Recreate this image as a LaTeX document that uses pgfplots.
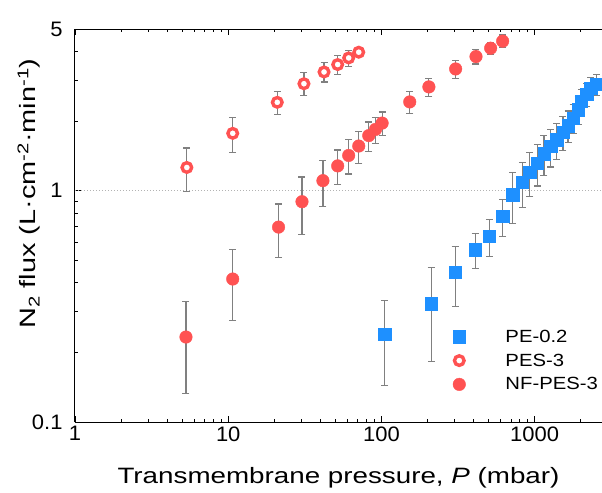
\documentclass[border=0pt]{standalone}
\usepackage{fontspec}
\setmainfont{Liberation Sans}
\newfontfamily\xlabfont{Liberation Sans}[FakeStretch=1.25]
\newfontfamily\ylabfont{Liberation Sans}[FakeStretch=1.3]
\newfontfamily\legfont{Liberation Sans}[FakeStretch=1.15]
\newfontfamily\tickfont{Liberation Sans}[FakeStretch=1.05]
\usepackage{pgfplots}
\usepackage{pgfplotstable}
\pgfplotsset{compat=1.18}
\definecolor{peblue}{RGB}{30,144,255}
\definecolor{pesred}{RGB}{255,82,82}
\definecolor{errgray}{RGB}{128,128,128}

\pgfplotstableread{
x y e
105 0.239 0.095
211 0.325 0.142
303 0.445 0.128
409 0.556 0.097
507 0.636 0.115
618 0.774 0.14
718 0.961 0.24
830 1.086 0.24
930 1.205 0.26
1040 1.318 0.27
1150 1.446 0.28
1270 1.556 0.29
1390 1.66 0.30
1530 1.79 0.30
1650 1.91 0.30
1780 2.06 0.30
1920 2.24 0.30
2020 2.44 0.30
2180 2.61 0.30
2320 2.78 0.30
2540 2.88 0.30
}\tablePE

\pgfplotstableread{
x y e
5.37 1.26 0.27
10.7 1.77 0.31
20.9 2.41 0.27
31.2 2.90 0.33
42.2 3.26 0.31
51.8 3.51 0.32
61.1 3.75 0.30
71.1 3.97 0.17
}\tablePES

\pgfplotstableread{
x y e
5.3 0.233 0.10
10.7 0.415 0.14
21.3 0.696 0.18
30.3 0.896 0.25
41.5 1.105 0.25
51.8 1.28 0.22
61.1 1.42 0.24
71.1 1.56 0.25
82.6 1.73 0.25
91.4 1.84 0.24
101 1.96 0.23
153 2.42 0.26
204 2.81 0.25
305 3.36 0.30
414 3.80 0.27
516 4.13 0.25
618 4.43 0.28
}\tableNF

\pgfplotsset{
  errstyle/.style={forget plot, draw=none, mark=none,
    error bars/.cd, y dir=both, y explicit,
    error bar style={draw=errgray, line width=1.15bp},
    error mark options={rotate=90, draw=errgray, mark size=3.5bp, line width=1.15bp}},
}

\begin{document}
\begin{tikzpicture}
\begin{axis}[
  name=ax,
  xmode=log, ymode=log,
  scale only axis,
  width=527bp, height=393bp,
  xmin=1, xmax=2750, ymin=0.1, ymax=5,
  axis x line*=box, axis y line*=left,
  xtick={1,10,100,1000}, xticklabels={1,10,100,1000},
  minor xtick={2,3,4,5,6,7,8,9,20,30,40,50,60,70,80,90,200,300,400,500,600,700,800,900,2000},
  ytick={0.1,1,5}, yticklabels={0.1,1,5},
  minor ytick={0.2,0.3,0.4,0.5,0.6,0.7,0.8,0.9,2,3,4},
  tick align=inside,
  major tick length=6bp, minor tick length=3.5bp,
  every tick/.style={black, line width=0.8bp},
  axis line style={line width=1bp},
  tick label style={font=\tickfont\fontsize{21}{23}\selectfont},
  /pgf/number format/assume math mode=true,
  yticklabel style={xshift=-9bp},
  xticklabel style={yshift=-1bp},
  xlabel={Transmembrane pressure, \textit{P} (mbar)},
  ylabel={N\textsubscript{2} flux (L·cm\textsuperscript{-2}·min\textsuperscript{-1})},
  every axis x label/.style={at={(axis description cs:0.5,0)}, anchor=base, yshift=-61bp, font=\xlabfont\fontsize{22.3}{25}\selectfont},
  every axis y label/.style={at={(axis description cs:-0.0873,0.581)}, anchor=center, rotate=90, font=\ylabfont\fontsize{22.3}{25}\selectfont},
  legend style={draw=none, fill=none, at={(0.70,0.245)}, anchor=north west,
    font=\legfont\fontsize{17.7}{20}\selectfont, row sep=6bp},
  legend cell align=left,
  legend image code/.code={\path (0bp,0bp) (56bp,0bp); \draw[mark repeat=2,mark phase=2,#1] plot coordinates {(0bp,0bp) (12bp,0bp) (56bp,0bp)};},
]
\addplot[forget plot, errgray!60, line width=0.8bp, dash pattern=on 1bp off 2bp] coordinates {(1,1) (2750,1)};

\addplot[errstyle] table[x=x, y=y, y error=e]{\tablePE};
\addplot[errstyle] table[x=x, y=y, y error=e]{\tablePES};
\addplot[errstyle] table[x=x, y=y, y error=e]{\tableNF};

\addplot[only marks, mark=square*, mark size=6.2bp, color=peblue]
  table[x=x, y=y]{\tablePE};
\addlegendentry{PE-0.2}

\addplot[only marks, mark=*, mark size=4.8bp, color=pesred,
  mark options={draw=pesred, fill=white, line width=3.4bp}]
  table[x=x, y=y]{\tablePES};
\addlegendentry{PES-3}

\addplot[only marks, mark=*, mark size=6.3bp, color=pesred,
  mark options={draw=none, fill=pesred}]
  table[x=x, y=y]{\tableNF};
\addlegendentry{NF-PES-3}
\end{axis}
\pgfresetboundingbox
\path[use as bounding box] ([xshift=-75bp,yshift=-71bp]ax.south west) rectangle ([xshift=527bp,yshift=422bp]ax.south west);
\end{tikzpicture}
\end{document}
